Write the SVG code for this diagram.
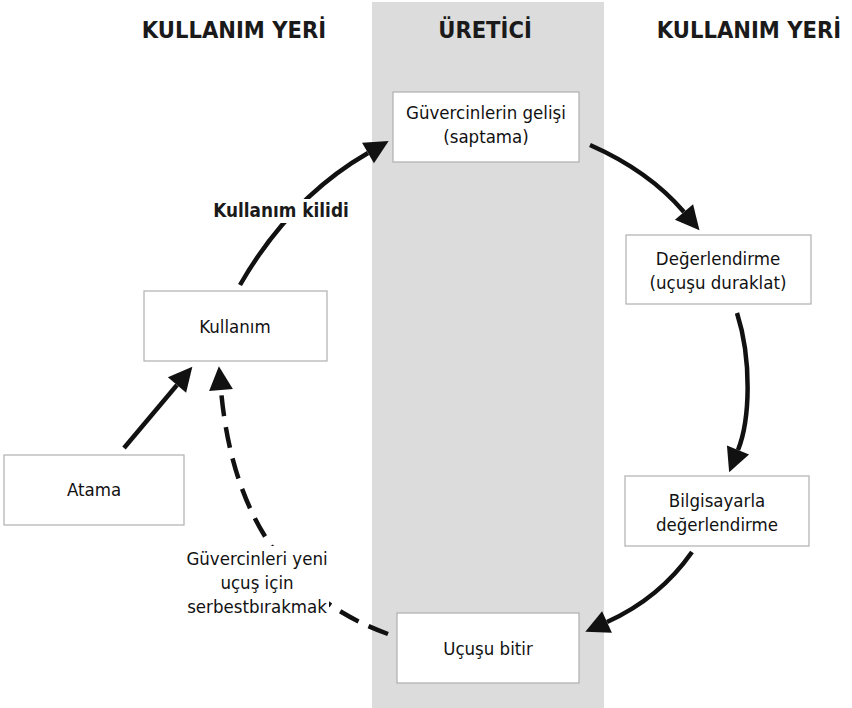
<svg xmlns="http://www.w3.org/2000/svg" width="852" height="708" viewBox="0 0 852 708">
<style>
.box{fill:#fff;stroke:#b0b0b0;stroke-width:1.2}
.t{font-family:"DejaVu Sans Condensed","DejaVu Sans",sans-serif;font-stretch:condensed;font-size:18.5px;fill:#111;text-anchor:middle}
.h{font-family:"DejaVu Sans Condensed","DejaVu Sans",sans-serif;font-stretch:condensed;font-weight:bold;font-size:23.5px;fill:#1a1a1a;text-anchor:middle}
.lb{font-family:"DejaVu Sans Condensed","DejaVu Sans",sans-serif;font-stretch:condensed;font-weight:bold;font-size:18.8px;fill:#1a1a1a;text-anchor:middle}
.c{fill:none;stroke:#111;stroke-width:4.5}
.d{stroke-dasharray:21 11}
</style>
<defs>
<marker id="ah" markerUnits="userSpaceOnUse" markerWidth="26" markerHeight="26" viewBox="0 -12 22 24" refX="0" refY="0" orient="auto">
<path d="M0,-11 L22,0 L0,11 Z" fill="#111"/>
</marker>
</defs>
<rect x="372" y="2" width="232" height="706" fill="#dcdcdc"/>
<g id="headers">
<text class="h" x="234" y="38">KULLANIM YERİ</text>
<text class="h" x="485" y="38">ÜRETİCİ</text>
<text class="h" x="749" y="38">KULLANIM YERİ</text>
</g>
<g id="connectors">
<path class="c" d="M590,145 Q649,171 684,212" marker-end="url(#ah)"/>
<path class="c" d="M737,313 C752,360 750,420 738,450" marker-end="url(#ah)"/>
<path class="c" d="M692,552 Q660,598 607,622" marker-end="url(#ah)"/>
<path class="c" d="M124,448 L177,385" marker-end="url(#ah)"/>
<path class="c d" d="M388,634 Q238,580 221,390" marker-end="url(#ah)"/>
<path class="c" d="M240,285 Q290,198 368,153" marker-end="url(#ah)"/>
</g>
<g id="label-kilit">
<rect x="208" y="199" width="146" height="24" fill="#fff"/>
<text class="lb" x="281" y="217">Kullanım kilidi</text>
</g>
<g id="label-serbest">
<rect x="186" y="546" width="143" height="74" fill="#fff"/>
<text class="t" x="257" y="565">Güvercinleri yeni</text>
<text class="t" x="257" y="589">uçuş için</text>
<text class="t" x="257" y="613">serbestbırakmak</text>
</g>
<g id="n-gelis">
<rect class="box" x="393" y="92" width="186" height="70"/>
<text class="t" x="486" y="119">Güvercinlerin gelişi</text>
<text class="t" x="486" y="143">(saptama)</text>
</g>
<g id="n-degerlendirme">
<rect class="box" x="626" y="235" width="185" height="69"/>
<text class="t" x="718" y="265">Değerlendirme</text>
<text class="t" x="718" y="289">(uçuşu duraklat)</text>
</g>
<g id="n-bilgisayar">
<rect class="box" x="625" y="476" width="184" height="70"/>
<text class="t" x="717" y="507">Bilgisayarla</text>
<text class="t" x="717" y="531">değerlendirme</text>
</g>
<g id="n-bitir">
<rect class="box" x="397" y="613" width="182" height="70"/>
<text class="t" x="488" y="655">Uçuşu bitir</text>
</g>
<g id="n-kullanim">
<rect class="box" x="144" y="291" width="183" height="70"/>
<text class="t" x="235" y="333">Kullanım</text>
</g>
<g id="n-atama">
<rect class="box" x="4" y="455" width="180" height="70"/>
<text class="t" x="94" y="496">Atama</text>
</g>
</svg>
